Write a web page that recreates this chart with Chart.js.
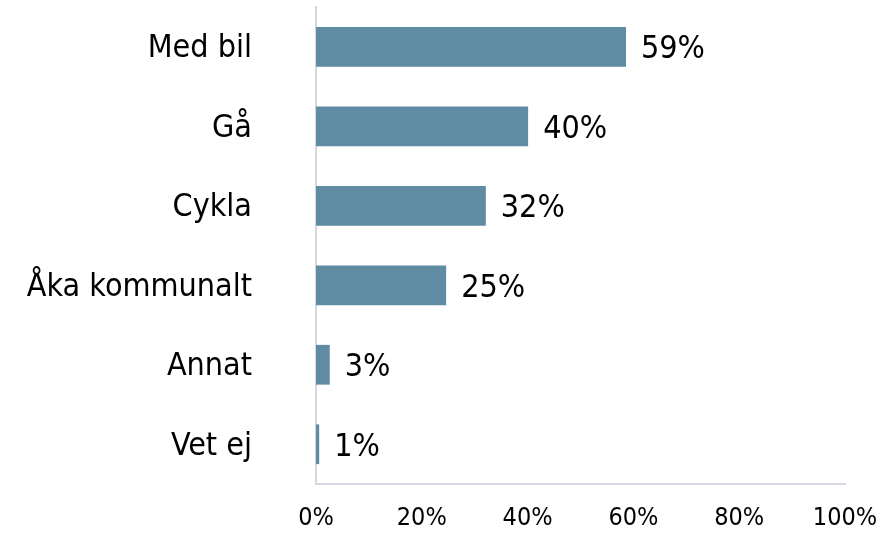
<!DOCTYPE html>
<html><head><meta charset="utf-8">
<script src="https://cdn.jsdelivr.net/npm/chart.js@4/dist/chart.umd.min.js"></script>
<style>html,body{margin:0;padding:0;background:#fff;overflow:hidden}canvas{display:block}</style>
</head><body><canvas id="c" width="884" height="534" style="width:884px;height:534px"></canvas>
<script>
const categories = ["Med bil", "Gå", "Cykla", "Åka kommunalt", "Annat", "Vet ej"];
const values = [58.6, 40.1, 32.1, 24.6, 2.6, 0.6];
const valueLabels = ["59%", "40%", "32%", "25%", "3%", "1%"];
const xTicks = [0, 20, 40, 60, 80, 100];

const FONT = "'DejaVu Sans Condensed', 'DejaVu Sans', Verdana, sans-serif";
const labelPlugin = {
  id: 'barLabels',
  afterDatasetsDraw(chart) {
    const ctx = chart.ctx;
    const meta = chart.getDatasetMeta(0);
    ctx.save();
    ctx.font = "32px " + FONT;
    ctx.fillStyle = "#000";
    ctx.textBaseline = "middle";
    ctx.textAlign = "left";
    meta.data.forEach((bar, i) => {
      ctx.fillText(valueLabels[i], bar.x + 15, bar.y + 3);
    });
    ctx.restore();
  }
};

new Chart(document.getElementById('c'), {
  type: 'bar',
  data: {
    labels: categories,
    datasets: [{
      data: values,
      backgroundColor: '#5F8BA3',
      barPercentage: 0.5,
      categoryPercentage: 1.0
    }]
  },
  options: {
    indexAxis: 'y',
    responsive: false,
    maintainAspectRatio: false,
    devicePixelRatio: 1,
    animation: false,
    layout: { padding: { top: 7, right: 39, bottom: 0, left: 0 } },
    plugins: { legend: { display: false }, tooltip: { enabled: false } },
    scales: {
      x: {
        min: 0, max: 100,
        afterBuildTicks(scale) { scale.ticks = xTicks.map(v => ({ value: v })); },
        grid: { display: false, drawTicks: false },
        border: { display: true, color: '#D5D9DF', width: 2 },
        ticks: {
          padding: 19,
          color: '#000',
          font: { family: FONT, size: 25 },
          maxRotation: 0,
          callback: v => v + '%'
        },
        afterFit(scale) { scale.height = 50; scale.paddingLeft = 0; scale.paddingRight = 0; scale.paddingTop = 0; scale.paddingBottom = 0; }
      },
      y: {
        grid: { display: false, drawTicks: false },
        border: { display: true, color: '#D5D9DF', width: 2 },
        ticks: {
          padding: 64,
          labelOffset: 2,
          color: '#000',
          font: { family: FONT, size: 32 }
        },
        afterFit(scale) { scale.width = 316; scale.paddingTop = 0; scale.paddingBottom = 0; scale.paddingLeft = 0; scale.paddingRight = 0; }
      }
    }
  },
  plugins: [labelPlugin]
});
</script>
</body></html>
